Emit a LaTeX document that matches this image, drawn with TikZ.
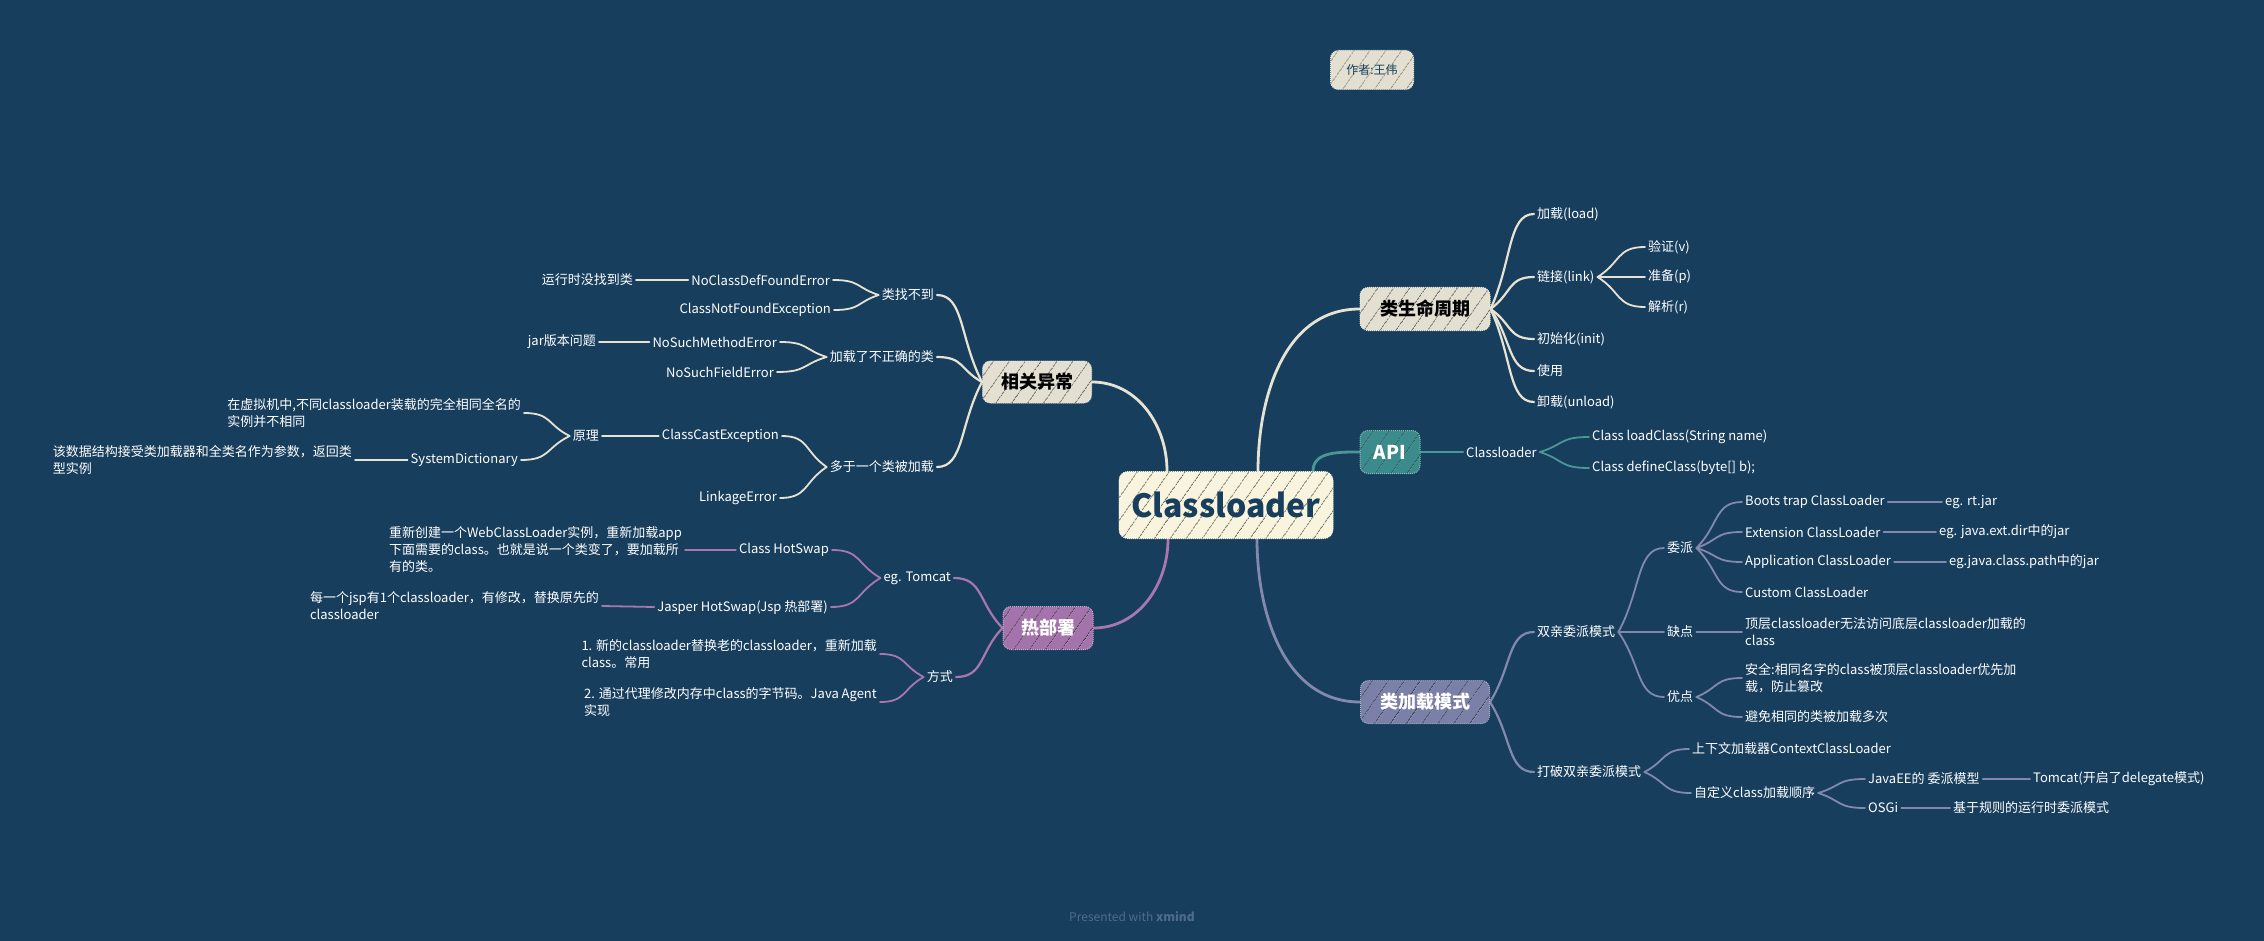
\documentclass[tikz,border=0pt]{standalone}
\usepackage{fontspec}
\setmainfont{Noto Sans CJK SC}
\usetikzlibrary{calc,patterns.meta}
\pgfdeclarelayer{bg}
\pgfdeclarelayer{edges}
\pgfsetlayers{bg,edges,main}

\definecolor{bgblue}{HTML}{173E5D}
\definecolor{cream}{HTML}{F8F4DD}
\definecolor{sand}{HTML}{E3E0D1}
\definecolor{apiteal}{HTML}{3C8B8C}
\definecolor{slate}{HTML}{7A80A8}
\definecolor{orchid}{HTML}{A473AB}
\definecolor{creamline}{HTML}{E7E3D3}
\definecolor{tealline}{HTML}{4A9896}
\definecolor{slateline}{HTML}{8389AD}
\definecolor{orchidline}{HTML}{A877AE}
\definecolor{footgray}{HTML}{4E6C89}

\begin{document}
\begin{tikzpicture}
    [x=1pt,y=-1pt,
     leaf/.style={inner sep=3pt,text=white,font=\fontsize{13}{17}\selectfont,align=left},
     topic/.style={rectangle,rounded corners=8pt,inner sep=0pt,minimum height=43pt,
        font=\fontsize{18}{20}\selectfont\bfseries,fill=#1,draw=#1!60!white,line width=1pt,densely dotted,
        postaction={pattern={Lines[angle=55,distance=13pt,line width=0.8pt]},pattern color=#1!45!black}},
     trunk/.style={line width=2.8pt,draw=#1,line cap=round},
     branch/.style={line width=2.2pt,draw=#1,line cap=round},
     twig/.style={line width=1.8pt,draw=#1,line cap=round},
     fan/.style={to path={.. controls ($(\tikztostart)!0.5!(\tikztotarget)$)
        and ($(\tikztotarget)!0.6!(\tikztostart |- \tikztotarget)$) .. (\tikztotarget) \tikztonodes}}]

    \begin{pgfonlayer}{bg}
        \fill[bgblue] (0,0) rectangle (2264,941);
    \end{pgfonlayer}
    \useasboundingbox (0,0) rectangle (2264,941);

    % central and main topics
    \node[topic=cream,minimum width=214pt,minimum height=67pt,rounded corners=9pt,
        font=\fontsize{32}{36}\selectfont\bfseries,text=bgblue] (root) at (1226,505) {Classloader};
    \node[topic=sand,minimum width=83pt,minimum height=39pt,font=\fontsize{12}{14}\selectfont,text=bgblue]
        (author) at (1372,70) {作者:王伟};
    \node[topic=sand,minimum width=130pt,text=black] (life) at (1425,309) {类生命周期};
    \node[topic=apiteal,minimum width=60pt,text=white,font=\fontsize{19}{21}\selectfont\bfseries] (api) at (1390,452) {API};
    \node[topic=slate,minimum width=129pt,text=white] (mode) at (1425,702) {类加载模式};
    \node[topic=sand,minimum width=109pt,minimum height=42pt,text=black] (exc) at (1037,382) {相关异常};
    \node[topic=orchid,minimum width=90pt,text=white] (hot) at (1048,628) {热部署};

    \node[font=\fontsize{12}{14}\selectfont,text=footgray] (footer) at (1132,917) {Presented with \textbf{xmind}};

    % class lifecycle
    \node[leaf,anchor=west] (load) at (1534,214) {加载(load)};
    \node[leaf,anchor=west] (link) at (1534,277) {链接(link)};
    \node[leaf,anchor=west] (verify) at (1645,247) {验证(v)};
    \node[leaf,anchor=west] (prepare) at (1645,277) {准备(p)};
    \node[leaf,anchor=west] (resolve) at (1645,307) {解析(r)};
    \node[leaf,anchor=west] (init) at (1534,339) {初始化(init)};
    \node[leaf,anchor=west] (use) at (1534,371) {使用};
    \node[leaf,anchor=west] (unload) at (1534,402) {卸载(unload)};

    % api
    \node[leaf,anchor=west] (cl) at (1463,452) {Classloader};
    \node[leaf,anchor=west] (loadc) at (1589,437) {Class loadClass(String name)};
    \node[leaf,anchor=west] (definec) at (1589,468) {Class defineClass(byte[] b);};

    % loading model
    \node[leaf,anchor=west] (parents) at (1534,632) {双亲委派模式};
    \node[leaf,anchor=west] (delegate) at (1664,548) {委派};
    \node[leaf,anchor=west] (boot) at (1742,502) {Boots trap ClassLoader};
    \node[leaf,anchor=west] (bootex) at (1942,502) {eg. rt.jar};
    \node[leaf,anchor=west] (ext) at (1742,532) {Extension ClassLoader};
    \node[leaf,anchor=west] (extex) at (1936,532) {eg. java.ext.dir中的jar};
    \node[leaf,anchor=west] (app) at (1742,562) {Application ClassLoader};
    \node[leaf,anchor=west] (appex) at (1946,562) {eg.java.class.path中的jar};
    \node[leaf,anchor=west] (custom) at (1742,592) {Custom ClassLoader};
    \node[leaf,anchor=west] (cons) at (1664,632) {缺点};
    \node[leaf,anchor=west] (consnote) at (1742,632) {顶层classloader无法访问底层classloader加载的\\class};
    \node[leaf,anchor=west] (pros) at (1664,697) {优点};
    \node[leaf,anchor=west] (safe) at (1742,678) {安全:相同名字的class被顶层classloader优先加\\载，防止篡改};
    \node[leaf,anchor=west] (once) at (1742,717) {避免相同的类被加载多次};
    \node[leaf,anchor=west] (broken) at (1534,772) {打破双亲委派模式};
    \node[leaf,anchor=west] (context) at (1689,749) {上下文加载器ContextClassLoader};
    \node[leaf,anchor=west] (order) at (1691,793) {自定义class加载顺序};
    \node[leaf,anchor=west] (javaee) at (1865,779) {JavaEE的 委派模型};
    \node[leaf,anchor=west] (tomcat) at (2030,779) {Tomcat(开启了delegate模式)};
    \node[leaf,anchor=west] (osgi) at (1865,808) {OSGi};
    \node[leaf,anchor=west] (rule) at (1950,808) {基于规则的运行时委派模式};

    % exceptions
    \node[leaf,anchor=east] (notfound) at (937,295) {类找不到};
    \node[leaf,anchor=east] (wrong) at (937,357) {加载了不正确的类};
    \node[leaf,anchor=east] (multi) at (937,467) {多于一个类被加载};
    \node[leaf,anchor=east] (ncdfe) at (833,280) {NoClassDefFoundError};
    \node[leaf,anchor=east] (cnfe) at (834,310) {ClassNotFoundException};
    \node[leaf,anchor=east] (nsme) at (780,342) {NoSuchMethodError};
    \node[leaf,anchor=east] (nsfe) at (777,372) {NoSuchFieldError};
    \node[leaf,anchor=east] (cce) at (782,436) {ClassCastException};
    \node[leaf,anchor=east] (linkage) at (780,498) {LinkageError};
    \node[leaf,anchor=east] (runtime) at (636,280) {运行时没找到类};
    \node[leaf,anchor=east] (jarver) at (599,342) {jar版本问题};
    \node[leaf,anchor=east] (principle) at (602,436) {原理};
    \node[leaf,anchor=east] (vmnote) at (524,413) {在虚拟机中,不同classloader装载的完全相同全名的\\实例并不相同};
    \node[leaf,anchor=east] (sysdict) at (521,460) {SystemDictionary};
    \node[leaf,anchor=east] (sysnote) at (355,460) {该数据结构接受类加载器和全类名作为参数，返回类\\型实例};

    % hot deploy
    \node[leaf,anchor=east] (egtomcat) at (954,578) {eg. Tomcat};
    \node[leaf,anchor=east] (ways) at (956,677) {方式};
    \node[leaf,anchor=east] (hotswap) at (832,550) {Class HotSwap};
    \node[leaf,anchor=east] (jasper) at (831,607) {Jasper HotSwap(Jsp 热部署)};
    \node[leaf,anchor=east] (hsnote) at (685,550) {重新创建一个WebClassLoader实例，重新加载app\\下面需要的class。也就是说一个类变了，要加载所\\有的类。};
    \node[leaf,anchor=east] (jspnote) at (602,606) {每一个jsp有1个classloader，有修改，替换原先的\\classloader};
    \node[leaf,anchor=east] (way1) at (880,654) {1. 新的classloader替换老的classloader，重新加载\\class。常用};
    \node[leaf,anchor=east] (way2) at (880,702) {2. 通过代理修改内存中class的字节码。Java Agent\\实现};

    \coordinate (rootA) at ($(root.north)+(32,0)$);
    \coordinate (rootB) at ($(root.north)+(87,0)$);
    \coordinate (rootC) at ($(root.north)+(-59,0)$);
    \coordinate (rootD) at ($(root.south)+(31,0)$);
    \coordinate (rootE) at ($(root.south)+(-58,0)$);

    \begin{pgfonlayer}{edges}
        \draw[trunk=creamline] (rootA) to[out=90,in=180] (life.west);
        \draw[trunk=tealline] (rootB) to[out=90,in=180] (api.west);
        \draw[trunk=slateline] (rootD) to[out=-90,in=180] (mode.west);
        \draw[trunk=creamline] (rootC) to[out=90,in=0] (exc.east);
        \draw[trunk=orchidline] (rootE) to[out=-90,in=0] (hot.east);

        \foreach \n in {load,link,init,use,unload}
            \draw[branch=creamline] (life.east) to[fan] (\n.west);
        \foreach \n in {verify,prepare,resolve}
            \draw[twig=creamline] (link.east) to[fan] (\n.west);

        \draw[branch=tealline] (api.east) to[fan] (cl.west);
        \foreach \n in {loadc,definec}
            \draw[twig=tealline] (cl.east) to[fan] (\n.west);

        \foreach \n in {parents,broken}
            \draw[branch=slateline] (mode.east) to[fan] (\n.west);
        \foreach \n in {delegate,cons,pros}
            \draw[twig=slateline] (parents.east) to[fan] (\n.west);
        \foreach \n in {boot,ext,app,custom}
            \draw[twig=slateline] (delegate.east) to[fan] (\n.west);
        \draw[twig=slateline] (cons.east) to[fan] (consnote.west);
        \foreach \n in {safe,once}
            \draw[twig=slateline] (pros.east) to[fan] (\n.west);
        \draw[twig=slateline] (boot.east) -- (bootex.west);
        \draw[twig=slateline] (ext.east) -- (extex.west);
        \draw[twig=slateline] (app.east) -- (appex.west);
        \foreach \n in {context,order}
            \draw[twig=slateline] (broken.east) to[fan] (\n.west);
        \foreach \n in {javaee,osgi}
            \draw[twig=slateline] (order.east) to[fan] (\n.west);
        \draw[twig=slateline] (javaee.east) -- (tomcat.west);
        \draw[twig=slateline] (osgi.east) -- (rule.west);

        \foreach \n in {notfound,wrong,multi}
            \draw[branch=creamline] (exc.west) to[fan] (\n.east);
        \foreach \n in {ncdfe,cnfe}
            \draw[twig=creamline] (notfound.west) to[fan] (\n.east);
        \foreach \n in {nsme,nsfe}
            \draw[twig=creamline] (wrong.west) to[fan] (\n.east);
        \foreach \n in {cce,linkage}
            \draw[twig=creamline] (multi.west) to[fan] (\n.east);
        \draw[twig=creamline] (ncdfe.west) -- (runtime.east);
        \draw[twig=creamline] (nsme.west) -- (jarver.east);
        \draw[twig=creamline] (cce.west) -- (principle.east);
        \foreach \n in {vmnote,sysdict}
            \draw[twig=creamline] (principle.west) to[fan] (\n.east);
        \draw[twig=creamline] (sysdict.west) -- (sysnote.east);

        \foreach \n in {egtomcat,ways}
            \draw[branch=orchidline] (hot.west) to[fan] (\n.east);
        \foreach \n in {hotswap,jasper}
            \draw[twig=orchidline] (egtomcat.west) to[fan] (\n.east);
        \draw[twig=orchidline] (hotswap.west) -- (hsnote.east);
        \draw[twig=orchidline] (jasper.west) -- (jspnote.east);
        \foreach \n in {way1,way2}
            \draw[twig=orchidline] (ways.west) to[fan] (\n.east);
    \end{pgfonlayer}

\end{tikzpicture}
\end{document}
